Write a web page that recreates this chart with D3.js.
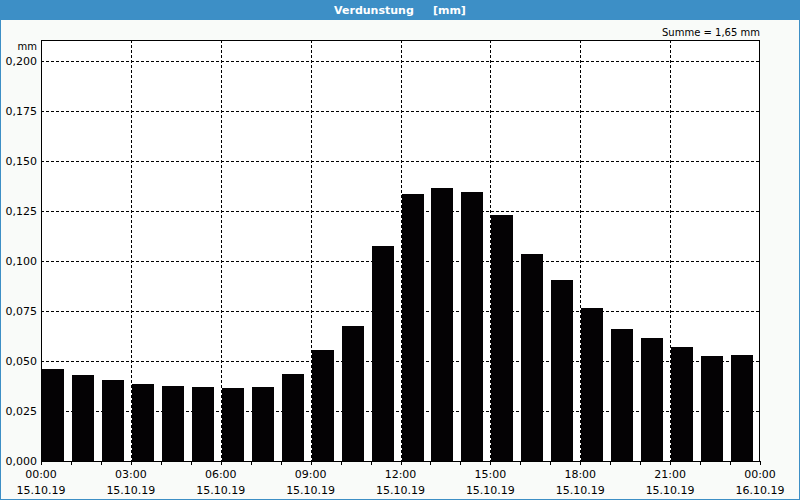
<!DOCTYPE html>
<html>
<head>
<meta charset="utf-8">
<style>
	body { margin: 0; }
	svg { display: block; font-family: Tahoma, "DejaVu Sans", sans-serif; }
	.grid line { stroke: #000; stroke-dasharray: 3,2; shape-rendering: crispEdges; }
	.axis text { font-size: 11px; fill: #000; }
</style>
</head>
<body>
<script src="https://cdnjs.cloudflare.com/ajax/libs/d3/7.8.5/d3.min.js"></script>
<script>

// hourly evaporation values, 15.10.19 00:00 .. 23:00
var hours = d3.range(24);
var values = [0.046, 0.043, 0.0405, 0.0385, 0.0375, 0.037, 0.0365, 0.037,
	0.0435, 0.0555, 0.0675, 0.1075, 0.1335, 0.1365, 0.1345, 0.123,
	0.1035, 0.0905, 0.0765, 0.066, 0.0615, 0.057, 0.0525, 0.053];
var yTicks = [0, 0.025, 0.05, 0.075, 0.1, 0.125, 0.15, 0.175, 0.2];
var xTickHours = [0, 3, 6, 9, 12, 15, 18, 21, 24];
var xTimeLabels = ["00:00", "03:00", "06:00", "09:00", "12:00", "15:00", "18:00", "21:00", "00:00"];
var xDateLabels = ["15.10.19", "15.10.19", "15.10.19", "15.10.19", "15.10.19", "15.10.19", "15.10.19", "15.10.19", "16.10.19"];

var W = 800, H = 500;
var margin = {top: 40, right: 40, bottom: 39, left: 41},
	width = W - margin.left - margin.right,
	height = H - margin.top - margin.bottom;

var x = d3.scaleLinear().domain([0, 24]).range([0, width]);
var y = d3.scaleLinear().domain([0, 0.2]).range([height, 21]);

var root = d3.select("body").append("svg")
	.attr("width", W)
	.attr("height", H);

// background and frame
root.append("rect").attr("width", W).attr("height", H).attr("fill", "#f9fbf9");
root.append("rect").attr("x", 0.5).attr("y", 0.5).attr("width", W - 1).attr("height", H - 1)
	.attr("fill", "none").attr("stroke", "#3d8fc6");
root.append("rect").attr("width", W).attr("height", 20).attr("fill", "#3d8fc6");
root.append("text")
	.attr("x", W / 2).attr("y", 14)
	.attr("text-anchor", "middle")
	.attr("fill", "#fff")
	.style("font-weight", "bold")
	.style("font-size", "11px")
	.attr("xml:space", "preserve")
	.text("Verdunstung     [mm]");

var svg = root.append("g")
	.attr("transform", "translate(" + margin.left + "," + margin.top + ")");

svg.append("rect").attr("width", width).attr("height", height).attr("fill", "#fff");

// Grid
var grid = svg.append("g").attr("class", "grid");
grid.selectAll(".h").data(yTicks.slice(1)).enter().append("line")
	.attr("x1", 0).attr("x2", width)
	.attr("y1", function(d) { return Math.round(y(d)) + 0.5; })
	.attr("y2", function(d) { return Math.round(y(d)) + 0.5; });
grid.selectAll(".v").data(xTickHours.slice(1, -1)).enter().append("line")
	.attr("y1", 0).attr("y2", height)
	.attr("x1", function(d) { return Math.round(x(d)) + 0.5; })
	.attr("x2", function(d) { return Math.round(x(d)) + 0.5; });

// Bars
svg.selectAll(".bar").data(values).enter().append("rect")
	.attr("fill", "#040204")
	.attr("x", function(d, i) { return Math.round(x(hours[i])) + 1; })
	.attr("width", 22)
	.attr("y", function(d) { return Math.round(y(d)); })
	.attr("height", function(d) { return height - Math.round(y(d)); });

// Frame of plot area
svg.append("rect").attr("x", 0.5).attr("y", 0.5).attr("width", width - 1).attr("height", height)
	.attr("fill", "none").attr("stroke", "#000").attr("shape-rendering", "crispEdges");

// X axis ticks (every hour)
svg.append("g").selectAll("line").data(d3.range(25)).enter().append("line")
	.attr("x1", function(d) { return Math.round(x(d)) + 0.5; })
	.attr("x2", function(d) { return Math.round(x(d)) + 0.5; })
	.attr("y1", height).attr("y2", height + 4)
	.attr("stroke", "#000").attr("shape-rendering", "crispEdges");

var xl = svg.append("g").attr("class", "axis");
xl.selectAll(".t").data(xTickHours).enter().append("text")
	.attr("x", function(d) { return x(d); })
	.attr("y", height + 17)
	.attr("text-anchor", "middle")
	.text(function(d, i) { return xTimeLabels[i]; });
xl.selectAll(".d").data(xTickHours).enter().append("text")
	.attr("x", function(d) { return x(d); })
	.attr("y", height + 33)
	.attr("text-anchor", "middle")
	.text(function(d, i) { return xDateLabels[i]; });

// Y axis labels
var yl = svg.append("g").attr("class", "axis");
yl.selectAll("text").data(yTicks).enter().append("text")
	.attr("x", -4)
	.attr("y", function(d) { return y(d) + 4; })
	.attr("text-anchor", "end")
	.text(function(d) { return d3.format(".3f")(d).replace(".", ","); });
yl.append("text").attr("x", -4).attr("y", 10).attr("text-anchor", "end")
	.style("font-size", "10px").text("mm");

// Sum
svg.append("text").attr("class", "axis")
	.attr("x", width).attr("y", -4)
	.attr("text-anchor", "end")
	.style("font-size", "10px")
	.text("Summe = 1,65 mm");

</script>
</body>
</html>
